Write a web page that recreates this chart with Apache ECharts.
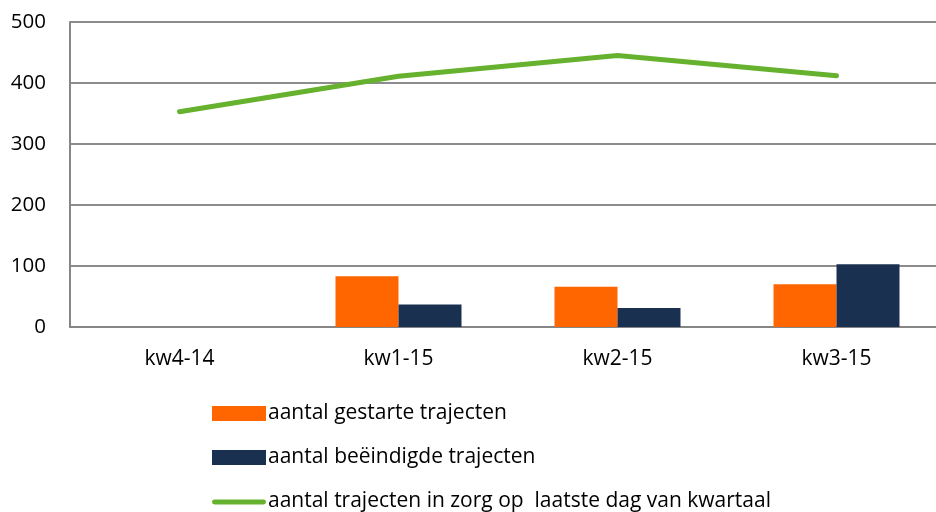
<!DOCTYPE html>
<html>
<head>
<meta charset="utf-8">
<script src="https://cdn.jsdelivr.net/npm/echarts@6/dist/echarts.min.js"></script>
<style>
html, body { margin: 0; padding: 0; background: #fff; }
#main { width: 936px; height: 512px; }
</style>
</head>
<body>
<div id="main"></div>
<script>
var kwartalen = ['kw4-14', 'kw1-15', 'kw2-15', 'kw3-15'];
var gestart = [null, 83, 66, 70];
var beeindigd = [null, 37, 31, 103];
var inZorg = [353, 411, 445, 412];
var yTicks = [0, 500, 100];

var chart = echarts.init(document.getElementById('main'));
var font = '"Open Sans", "Noto Sans", sans-serif';

option = {
    animation: false,
    grid: {
        left: 70,
        width: 876, // plotgebied loopt rechts buiten beeld
        top: 22,
        bottom: 185,
        outerBoundsMode: 'none'
    },
    legend: {
        orient: 'vertical',
        left: 207,
        top: 398,
        height: 200,
        itemGap: 23,
        itemWidth: 54,
        itemHeight: 15,
        textStyle: {
            color: '#000',
            fontSize: 21,
            fontFamily: font,
            padding: [0, 0, 0, -3]
        },
        data: [
            { name: 'aantal gestarte trajecten', icon: 'rect' },
            { name: 'aantal beëindigde trajecten', icon: 'rect' },
            {
                name: 'aantal trajecten in zorg op  laatste dag van kwartaal',
                // dikke groene lijn als legenda-icoon
                icon: 'path://M0,0 M2,5.5 L52,5.5 A2.5,2.5 0 0 1 52,10.5 L2,10.5 A2.5,2.5 0 0 1 2,5.5 Z M54,15'
            }
        ]
    },
    xAxis: {
        type: 'category',
        data: kwartalen,
        axisTick: { show: false },
        axisLine: { lineStyle: { color: '#868686', width: 2 } },
        axisLabel: {
            color: '#000',
            fontSize: 21,
            fontFamily: font,
            margin: 22
        }
    },
    yAxis: {
        type: 'value',
        min: yTicks[0],
        max: yTicks[1],
        interval: yTicks[2],
        axisLine: { show: true, lineStyle: { color: '#868686', width: 2 } },
        axisTick: { show: false },
        splitLine: { lineStyle: { color: '#8c8c8c', width: 2 } },
        axisLabel: {
            color: '#000',
            fontSize: 20.5,
            fontFamily: font,
            margin: 24
        }
    },
    series: [
        {
            name: 'aantal gestarte trajecten',
            type: 'bar',
            data: gestart,
            barWidth: 63,
            barGap: '0%',
            itemStyle: { color: '#ff6600' }
        },
        {
            name: 'aantal beëindigde trajecten',
            type: 'bar',
            data: beeindigd,
            barWidth: 63,
            itemStyle: { color: '#1a3050' }
        },
        {
            name: 'aantal trajecten in zorg op  laatste dag van kwartaal',
            type: 'line',
            data: inZorg,
            symbol: 'none',
            lineStyle: { color: '#66b22e', width: 5, cap: 'round' },
            itemStyle: { color: '#66b22e' }
        }
    ]
};

chart.setOption(option);
</script>
</body>
</html>
